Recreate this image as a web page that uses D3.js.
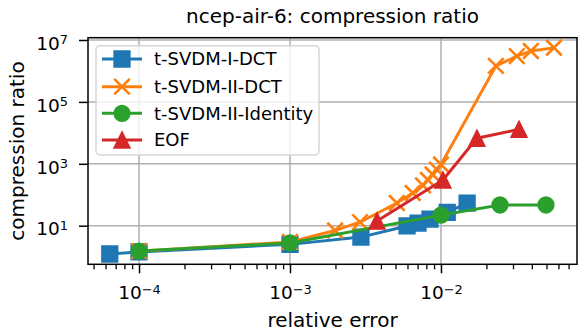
<!DOCTYPE html>
<html><head><meta charset="utf-8">
<script src="https://cdn.jsdelivr.net/npm/d3@7"></script>
<style>
body{margin:0;background:#fff}
svg text{font-family:"DejaVu Sans",sans-serif;fill:#000}
</style>
</head><body><svg id="c" width="586" height="335"></svg>
<script>
// ---------- data ----------
const seriesNames = ["t-SVDM-I-DCT", "t-SVDM-II-DCT", "t-SVDM-II-Identity", "EOF"];
const seriesColors = ["#1f77b4", "#ff7f0e", "#2ca02c", "#d62728"];
const seriesMarkers = ["square", "x", "circle", "triangle"];

const blueX = [6.4e-5, 1e-4, 1e-3, 2.95e-3, 5.96e-3, 7.05e-3, 8.46e-3, 1.1e-2, 1.49e-2];
const blueY = [1.22, 1.42, 2.5, 4.3, 9.8, 12.2, 16.4, 27, 54];

const orangeX = [1e-4, 1e-3, 1.99e-3, 2.91e-3, 5.1e-3, 6.5e-3, 7.6e-3, 8.2e-3, 8.8e-3, 9.4e-3, 1.0e-2, 0.0231, 0.0318, 0.0394, 0.056];
const orangeY = [1.5, 3.0, 7, 13, 54, 114, 200, 300, 450, 650, 950, 1.45e6, 3.0e6, 4.4e6, 5.6e6];

const greenX = [1e-4, 1e-3, 0.01, 0.0246, 0.0496];
const greenY = [1.52, 2.76, 22, 46.7, 46.7];

const redX = [3.77e-3, 0.0103, 0.0173, 0.0329];
const redY = [14.2, 300, 6700, 13000];

const xMajorTicks = [1e-4, 1e-3, 1e-2];
const xTickExponents = ["\u22124", "\u22123", "\u22122"];
const yMajorTicks = [1e1, 1e3, 1e5, 1e7];
const yTickExponents = ["1", "3", "5", "7"];

const titleText = "ncep-air-6: compression ratio";
const xLabelText = "relative error";
const yLabelText = "compression ratio";

const xLimits = [Math.pow(10, -4.338), Math.pow(10, -1.099)];
const yLimits = [Math.pow(10, -0.247), Math.pow(10, 7.074)];

// ---------- layout ----------
const L = 88, R = 577, T = 37.7, B = 264.3;
const svg = d3.select("#c");

const x = d3.scaleLog().domain(xLimits).range([L, R]);
const y = d3.scaleLog().domain(yLimits).range([B, T]);

// grid
const grid = svg.append("g");
grid.selectAll(".gx").data(xMajorTicks).join("line")
  .attr("x1", d => x(d)).attr("x2", d => x(d)).attr("y1", T).attr("y2", B)
  .attr("stroke", "#b0b0b0").attr("stroke-width", 1.5);
grid.selectAll(".gy").data(yMajorTicks).join("line")
  .attr("x1", L).attr("x2", R).attr("y1", d => y(d)).attr("y2", d => y(d))
  .attr("stroke", "#b0b0b0").attr("stroke-width", 1.5);

// minor x ticks
const xMinor = [];
for (let e = -5; e <= -1; e++) for (let k = 2; k <= 9; k++) {
  const v = k * Math.pow(10, e);
  if (v >= xLimits[0] && v <= xLimits[1]) xMinor.push(v);
}

const fontTick = 18.5;

const xAxisMinor = svg.append("g").attr("transform", `translate(0,${B})`)
  .call(d3.axisBottom(x).tickValues(xMinor).tickSize(5).tickFormat(""));
xAxisMinor.select(".domain").remove();
xAxisMinor.selectAll("line").attr("stroke-width", 1.3);

const xAxis = svg.append("g").attr("transform", `translate(0,${B})`)
  .call(d3.axisBottom(x).tickValues(xMajorTicks).tickSize(9).tickPadding(13));
xAxis.select(".domain").remove();
xAxis.selectAll("line").attr("stroke-width", 1.5);
xAxis.selectAll(".tick text").attr("font-size", fontTick).attr("font-family", "DejaVu Sans")
  .each(function (d, i) {
    const t = d3.select(this); t.text(null);
    t.append("tspan").text("10");
    t.append("tspan").attr("dy", "-0.42em").attr("font-size", "0.7em").text(xTickExponents[i]);
  });

const yAxis = svg.append("g").attr("transform", `translate(${L},0)`)
  .call(d3.axisLeft(y).tickValues(yMajorTicks).tickSize(9).tickPadding(11));
yAxis.select(".domain").remove();
yAxis.selectAll("line").attr("stroke-width", 1.5);
yAxis.selectAll(".tick text").attr("font-size", fontTick).attr("font-family", "DejaVu Sans")
  .attr("dy", "0.5em")
  .each(function (d, i) {
    const t = d3.select(this); t.text(null);
    t.append("tspan").text("10");
    t.append("tspan").attr("dy", "-0.42em").attr("font-size", "0.7em").text(yTickExponents[i]);
  });

// marker paths
function markerPath(kind, s) {
  const h = s / 2;
  if (kind === "square") return `M${-h},${-h}H${h}V${h}H${-h}Z`;
  if (kind === "triangle") return `M0,${-h}L${h},${h}L${-h},${h}Z`;
  if (kind === "circle") return d3.symbol(d3.symbolCircle, Math.PI * h * h)();
  if (kind === "x") return `M${-h},${-h}L${h},${h}M${-h},${h}L${h},${-h}`;
}
function drawMarker(g, kind, color, s) {
  const p = g.append("path").attr("d", markerPath(kind, s));
  if (kind === "x") p.attr("fill", "none").attr("stroke", color).attr("stroke-width", 2.6);
  else p.attr("fill", color).attr("stroke", color).attr("stroke-width", 1.8).attr("stroke-linejoin", "miter");
  return p;
}

const seriesData = [
  blueX.map((v, i) => [v, blueY[i]]),
  orangeX.map((v, i) => [v, orangeY[i]]),
  greenX.map((v, i) => [v, greenY[i]]),
  redX.map((v, i) => [v, redY[i]])
];
const markerSize = [15.5, 15.5, 15.5, 15.5];

const plot = svg.append("g");
const line = d3.line().x(d => x(d[0])).y(d => y(d[1]));
seriesData.forEach((data, si) => {
  const g = plot.append("g");
  g.append("path").datum(data).attr("d", line).attr("fill", "none")
    .attr("stroke", seriesColors[si]).attr("stroke-width", 2.9)
    .attr("stroke-linejoin", "round").attr("stroke-linecap", "square");
  data.forEach(d => {
    const mg = g.append("g").attr("transform", `translate(${x(d[0])},${y(d[1])})`);
    drawMarker(mg, seriesMarkers[si], seriesColors[si], markerSize[si]);
  });
});

// spines
svg.append("rect").attr("x", L).attr("y", T).attr("width", R - L).attr("height", B - T)
  .attr("fill", "none").attr("stroke", "#000").attr("stroke-width", 1.5);

// legend
const lg = svg.append("g");
lg.append("rect").attr("x", 96).attr("y", 45.7).attr("width", 223).attr("height", 109.3)
  .attr("rx", 4).attr("fill", "#fff").attr("fill-opacity", 0.8)
  .attr("stroke", "#d6d6d6").attr("stroke-width", 1.5);
const legendY = [59, 86.7, 113.3, 140];
seriesNames.forEach((name, i) => {
  const cy = legendY[i];
  lg.append("line").attr("x1", 102).attr("x2", 142).attr("y1", cy).attr("y2", cy)
    .attr("stroke", seriesColors[i]).attr("stroke-width", 2.9);
  const mg = lg.append("g").attr("transform", `translate(122,${cy})`);
  drawMarker(mg, seriesMarkers[i], seriesColors[i], markerSize[i]);
  lg.append("text").attr("x", 154).attr("y", cy).attr("dy", "0.36em")
    .attr("font-size", 18).text(name);
});

// title & labels
svg.append("text").attr("x", (L + R) / 2).attr("y", 23).attr("text-anchor", "middle")
  .attr("font-size", 20).text(titleText);
svg.append("text").attr("x", (L + R) / 2).attr("y", 327).attr("text-anchor", "middle")
  .attr("font-size", 20).text(xLabelText);
svg.append("text").attr("transform", `translate(24,${(T + B) / 2}) rotate(-90)`)
  .attr("text-anchor", "middle").attr("font-size", 20).text(yLabelText);
</script>
</body></html>
